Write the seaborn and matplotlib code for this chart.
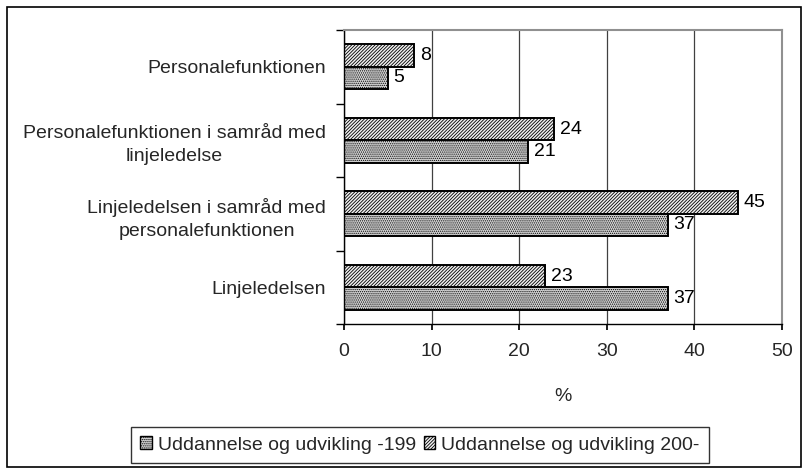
import pandas as pd
import seaborn as sns
import matplotlib.pyplot as plt
from matplotlib.patches import Patch, Rectangle

categories = ["Personalefunktionen",
              "Personalefunktionen i samråd med\nlinjeledelse",
              "Linjeledelsen i samråd med\npersonalefunktionen",
              "Linjeledelsen"]
series_old = "Uddannelse og udvikling -199"
series_new = "Uddannelse og udvikling 200-"
values_old = [5, 21, 37, 37]
values_new = [8, 24, 45, 23]
x_ticks = [0, 10, 20, 30, 40, 50]

df = pd.DataFrame({
    "kategori": categories * 2,
    "pct": values_new + values_old,
    "serie": [series_new] * 4 + [series_old] * 4,
})

sns.set_theme(style="white")
plt.rcParams['font.family'] = ['Liberation Sans', 'DejaVu Sans']
plt.rcParams['hatch.linewidth'] = 0.6

fig = plt.figure(figsize=(8.07, 4.72), dpi=100)
ax = fig.add_axes([344 / 807, 1 - 324 / 472, 438 / 807, 294 / 472])

sns.barplot(data=df, y="kategori", x="pct", hue="serie", hue_order=[series_new, series_old],
            orient="h", width=0.61, gap=0, dodge=True, legend=False, ax=ax,
            edgecolor="black", linewidth=1.4)

# (face, hatch, hatch colour)
styles = {0: ("#f0f0f0", "//////////", "#303030"), 1: ("#d4d4d4", "........", "#707070")}


def paint(patch, style):
    face, hatch, hcol = style
    patch.set_facecolor(face)
    patch.set_hatch(hatch)
    if hasattr(patch, "set_hatchcolor"):
        patch.set_hatchcolor(hcol)


for i, cont in enumerate(ax.containers):
    for bar in cont:
        paint(bar, styles[i])
    ax.bar_label(cont, padding=4, fontsize=14, color="black")

ax.set_xlim(0, 50)
ax.set_ylim(3.5, -0.5)
ax.set_xticks(x_ticks)
ax.set_xticklabels([str(t) for t in x_ticks])
ax.xaxis.grid(True, color="#404040", linewidth=0.9)
ax.set_axisbelow(True)

ax.set_xlabel("%", fontsize=14, labelpad=20)
ax.set_ylabel("")
ax.tick_params(axis="x", labelsize=14, length=4, direction="out", bottom=True, color="black", pad=10)
ax.tick_params(axis="y", which="major", labelsize=14, length=0, pad=13)
ax.set_yticks([-0.5, 0.5, 1.5, 2.5, 3.5], minor=True)
ax.tick_params(axis="y", which="minor", length=6, direction="out", left=True, color="black")
for lab in ax.get_yticklabels():
    lab.set_multialignment("center")
    lab.set_linespacing(1.45)

for side in ["top", "right"]:
    ax.spines[side].set_color("#909090")
    ax.spines[side].set_linewidth(1.5)
for side in ["left", "bottom"]:
    ax.spines[side].set_color("black")
    ax.spines[side].set_linewidth(1.0)

h_old = Patch(edgecolor="black", label=series_old)
h_new = Patch(edgecolor="black", label=series_new)
paint(h_old, styles[1])
paint(h_new, styles[0])
leg = fig.legend(handles=[h_old, h_new], loc="center", bbox_to_anchor=(420 / 807, 1 - 445 / 472), ncol=2,
                 fontsize=14, frameon=True, fancybox=False, edgecolor="black",
                 handlelength=0.6, handleheight=0.6, handletextpad=0.3, columnspacing=0.4,
                 borderpad=0.5, borderaxespad=0)
leg.get_frame().set_linewidth(1.0)

fig.patches.append(Rectangle((7 / 807, 5 / 472), 794 / 807, 460 / 472, transform=fig.transFigure,
                             fill=False, edgecolor="black", linewidth=1.2))

fig.savefig("out.png", dpi=100)
